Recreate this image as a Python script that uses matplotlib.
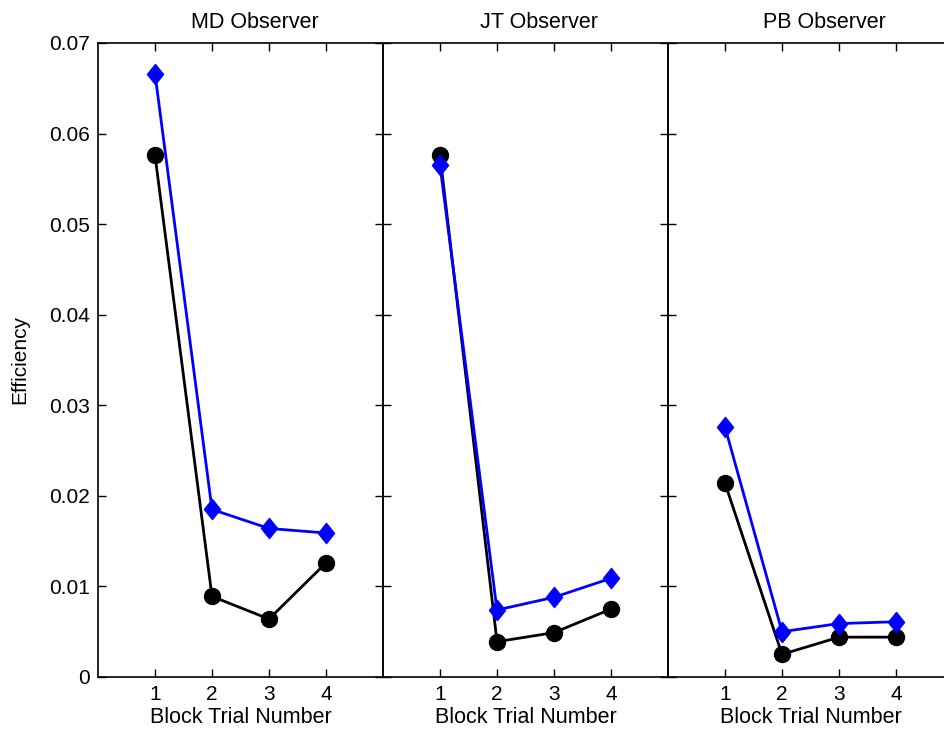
import numpy as np
import matplotlib.pyplot as plt
from matplotlib.path import Path

plt.rcParams["font.family"] = ["Liberation Sans", "DejaVu Sans"]

blocks = [1, 2, 3, 4]
observers = ["MD Observer", "JT Observer", "PB Observer"]

# efficiency per block, blue diamonds and black circles
blue_eff = [
    [0.0666, 0.0185, 0.0164, 0.0159],
    [0.0565, 0.0074, 0.0088, 0.0109],
    [0.0276, 0.0050, 0.0059, 0.0061],
]
black_eff = [
    [0.0576, 0.0089, 0.0064, 0.0126],
    [0.0576, 0.0039, 0.0049, 0.0075],
    [0.0214, 0.0025, 0.0044, 0.0044],
]
yticks = [0, 0.01, 0.02, 0.03, 0.04, 0.05, 0.06, 0.07]
ytick_labels = ["0", "0.01", "0.02", "0.03", "0.04", "0.05", "0.06", "0.07"]

# matlab-style diamond, a bit taller than wide
diamond = Path([(0, 1), (0.8, 0), (0, -1), (-0.8, 0), (0, 1)],
               [Path.MOVETO, Path.LINETO, Path.LINETO, Path.LINETO, Path.CLOSEPOLY])

W, H = 945, 733
fig = plt.figure(figsize=(W / 100, H / 100), dpi=100)

left0 = 98
panel_w = 285
top, bottom = 43, 677

for i, name in enumerate(observers):
    ax = fig.add_axes([(left0 + i * panel_w) / W, (H - bottom) / H,
                       panel_w / W, (bottom - top) / H])
    ax.plot(blocks, black_eff[i], color="black", lw=2, marker="o",
            ms=11.5, zorder=3)
    ax.plot(blocks, blue_eff[i], color="blue", lw=2, marker=diamond,
            ms=14.5, zorder=4)
    ax.set_xlim(0, 5)
    ax.set_ylim(0, 0.07)
    ax.set_xticks(blocks)
    ax.set_yticks(yticks)
    if i == 0:
        ax.set_yticklabels(ytick_labels)
        ax.set_ylabel("Efficiency", fontsize=15, labelpad=14)
    else:
        ax.set_yticklabels([])
    ax.tick_params(direction="in", top=True, right=True, length=6,
                   width=1, labelsize=15, pad=6)
    ax.set_xlabel("Block Trial Number", fontsize=15.5, labelpad=2)
    ax.set_title(name, fontsize=15.5, pad=11, x=0.5 + 14 / panel_w)
    for s in ax.spines.values():
        s.set_linewidth(1.2)
    ax.patch.set_alpha(0)

fig.savefig("out.png", dpi=100)
